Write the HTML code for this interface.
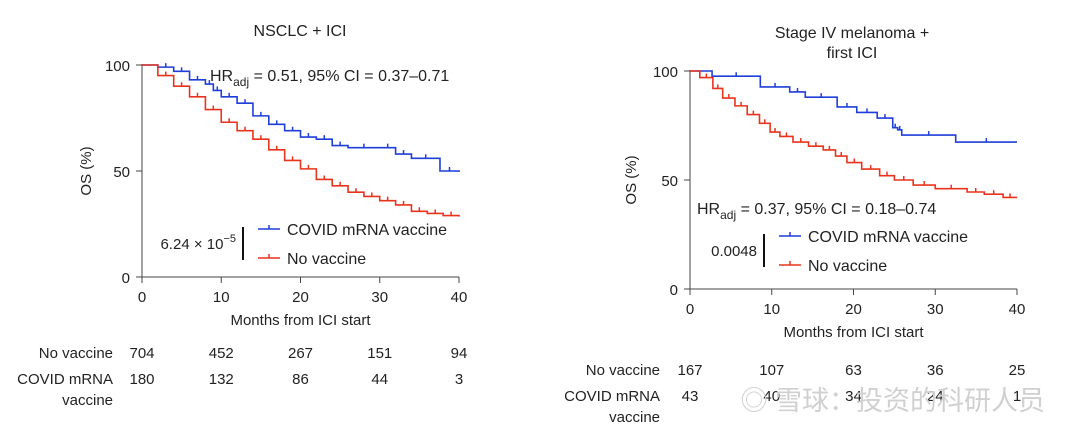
<!DOCTYPE html>
<html><head><meta charset="utf-8"><style>
html,body{margin:0;padding:0;background:#fff;}
svg{display:block;font-family:"Liberation Sans","Noto Sans CJK SC",sans-serif;}
text{fill:#222;}
</style></head><body>
<svg id="s" width="1080" height="433" viewBox="0 0 1080 433">
<text x="300" y="36" font-size="16" text-anchor="middle">NSCLC + ICI</text>
<text x="852" y="38" font-size="16" text-anchor="middle">Stage IV melanoma +</text>
<text x="852" y="58" font-size="16" text-anchor="middle">first ICI</text>
<g id="p1"></g>
<g id="p2"></g>
<text x="1045" y="410" font-size="27" fill="#ccc" style="fill:#d0d0d0" text-anchor="end">◎ 雪球：投资的科研人员</text>
</svg>
<script>
// Panel 1 data (NSCLC)
const xTicks = [0,10,20,30,40];
const yTicks1 = [0,50,100];
const p1VaxMonths = [0,2,4,6,8,9,10,12,14,16,18,20,22,24,26,30,32,34,37.6,40];
const p1VaxOS     = [100,99,97,93,91,88,85,82,76,72,69,66,65,62,61,61,58,56,50,49.5];
const p1NoMonths  = [0,2,4,6,8,10,12,14,16,18,20,22,24,26,28,30,32,34,36,38,40];
const p1NoOS      = [100,95,90,85,79,73,69,65,60,55,51,46,43,40,38,36,34,31,30,29,28.5];
const p1RiskNo  = ["704","452","267","151","94"];
const p1RiskVax = ["180","132","86","44","3"];
// Panel 2 data (melanoma)
const p2VaxMonths = [0,2.7,8.6,12.2,14.1,18,20.4,22.9,24.8,25.4,25.9,32.5,40];
const p2VaxOS     = [100,97.6,92.7,90.4,88,83.5,81,78.4,74,73,70.6,67.4,67.4];
const p2NoMonths  = [0,1.2,2.8,4,5.5,7,8.5,9.8,11,12.6,14.5,16.3,17.8,19.2,21,23.2,25,27.3,30,33.9,36,38.3,40];
const p2NoOS      = [100,97,92,87.6,84,80,76,72,70,67.4,65.5,63.8,61,58,55,52,50,47.7,46,44.5,43.5,42,42];
const p2RiskNo  = ["167","107","63","36","25"];
const p2RiskVax = ["43","40","34","24","1"];

const NS="http://www.w3.org/2000/svg";
function mk(parent,tag,attrs,txt){const e=document.createElementNS(NS,tag);for(const k in attrs)e.setAttribute(k,attrs[k]);if(txt!==undefined)e.textContent=txt;parent.appendChild(e);return e;}

function panel(g,cfg){
  const sx=m=>cfg.x0+(cfg.x1-cfg.x0)*m/40;
  const sy=v=>cfg.y0-(cfg.y0-cfg.y100)*v/100;
  let ax=mk(g,'path',{d:`M${sx(0)},${sy(100)-1}V${sy(0)}H${sx(40)}`,fill:'none',stroke:'#444','stroke-width':1});
  
  
  xTicks.forEach(t=>{
    let l=mk(g,'line',{x1:sx(t),x2:sx(t),y1:sy(0),y2:sy(0)+6,stroke:'#444'});
    
    
    let tx=mk(g,'text',{x:sx(t),y:sy(0)+25,'font-size':15,'text-anchor':'middle'},String(t));
    
    
  });
  yTicks1.forEach(t=>{
    let l=mk(g,'line',{x1:sx(0)-6,x2:sx(0),y1:sy(t),y2:sy(t),stroke:'#444'});
    
    
    let tx=mk(g,'text',{x:sx(0)-12,y:sy(t)+6,'font-size':15,'text-anchor':'end'},String(t));
    
    
  });
  let yl=mk(g,'text',{x:cfg.ylx,y:(sy(50)),'font-size':15,'text-anchor':'middle',transform:`rotate(-90 ${cfg.ylx} ${sy(50)})`},'OS (%)');
  
  
  let xl=mk(g,'text',{x:(sx(0)+sx(40))/2,y:sy(0)+48,'font-size':15,'text-anchor':'middle'},'Months from ICI start');
  
  
  function curve(ms,vs,col,name){
    let d=`M${sx(ms[0])},${sy(vs[0])}`;
    for(let i=1;i<ms.length;i++){d+=`H${sx(ms[i])}V${sy(vs[i])}`;}
    let p=mk(g,'path',{d:d,fill:'none',stroke:col,'stroke-width':1.6});
    
    
    for(let i=1;i<ms.length-1;i++){
      const mm=(ms[i]+ms[i+1])/2;
      let c=mk(g,'line',{x1:sx(mm),x2:sx(mm),y1:sy(vs[i])-4,y2:sy(vs[i]),stroke:col,'stroke-width':1.5});
      
      
    }
  }
  curve(cfg.vm,cfg.vv,'#1f3fd8','curve-covid-vaccine');
  curve(cfg.nm,cfg.nv,'#e8341c','curve-no-vaccine');
  // HR
  let hr=mk(g,'text',{x:cfg.hrx,y:cfg.hry,'font-size':16});
  
  
  mk(hr,'tspan',{},'HR');mk(hr,'tspan',{'font-size':12,dy:5},'adj');mk(hr,'tspan',{dy:-5},cfg.hrText);
  // legend
  [[cfg.ly,'#1f3fd8','COVID mRNA vaccine','legend-covid-vaccine'],[cfg.ly+29,'#e8341c','No vaccine','legend-no-vaccine']].forEach(r=>{
    let l=mk(g,'line',{x1:cfg.lx,x2:cfg.lx+22,y1:r[0],y2:r[0],stroke:r[1],'stroke-width':1.6});
    
    
    mk(g,'line',{x1:cfg.lx+11,x2:cfg.lx+11,y1:r[0]-4,y2:r[0],stroke:r[1],'stroke-width':1.5});
    let t=mk(g,'text',{x:cfg.lx+29,y:r[0]+6,'font-size':16},r[2]);
    
    
  });
  let b=mk(g,'line',{x1:cfg.lx-15,x2:cfg.lx-15,y1:cfg.ly-2,y2:cfg.ly+31,stroke:'#111','stroke-width':2});
  
  
  let pv=mk(g,'text',{x:cfg.lx-22,y:cfg.ly+20,'font-size':15,'text-anchor':'end'},cfg.p);
  
  
  if(cfg.pSup){mk(pv,'tspan',{'font-size':11,dy:-7},cfg.pSup);}
  // risk table
  const rows=[[cfg.rNo,cfg.r1,'No vaccine'],[cfg.rVax,cfg.r2,'COVID mRNA']];
  rows.forEach((r,ri)=>{
    let lab=mk(g,'text',{x:cfg.rlx,y:r[1],'font-size':15,'text-anchor':'end'},r[2]);
    
    
    r[0].forEach((v,i)=>{
      let t=mk(g,'text',{x:sx(xTicks[i]),y:r[1],'font-size':15,'text-anchor':'middle'},v);
      
      
    });
  });
  let v2=mk(g,'text',{x:cfg.rlx,y:cfg.r2+21,'font-size':15,'text-anchor':'end'},'vaccine');
  
  
}
panel(document.getElementById('p1'),{x0:142,x1:459,y0:277,y100:65,ylx:91,vm:p1VaxMonths,vv:p1VaxOS,nm:p1NoMonths,nv:p1NoOS,
  hrx:210,hry:81,hrText:' = 0.51, 95% CI = 0.37–0.71',lx:258,ly:229,p:'6.24 × 10',pSup:'−5',rNo:p1RiskNo,rVax:p1RiskVax,r1:358,r2:384,rlx:113});
panel(document.getElementById('p2'),{x0:690,x1:1017,y0:289,y100:71,ylx:636,vm:p2VaxMonths,vv:p2VaxOS,nm:p2NoMonths,nv:p2NoOS,
  hrx:697,hry:214,hrText:' = 0.37, 95% CI = 0.18–0.74',lx:779,ly:236,p:'0.0048',pSup:'',rNo:p2RiskNo,rVax:p2RiskVax,r1:375,r2:401,rlx:660});
</script>
</body></html>
